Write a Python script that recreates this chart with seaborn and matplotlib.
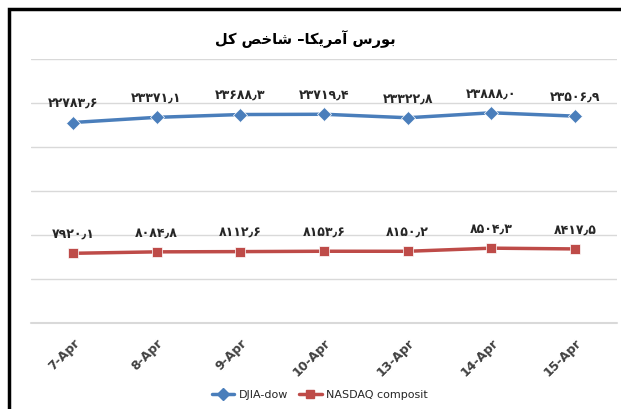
import pandas as pd
import matplotlib.pyplot as plt
import seaborn as sns
from matplotlib.patches import Rectangle
from matplotlib.lines import Line2D

# chart data
dates = ['7-Apr', '8-Apr', '9-Apr', '10-Apr', '13-Apr', '14-Apr', '15-Apr']
djia = [22783.6, 23371.1, 23688.3, 23719.4, 23322.8, 23888.0, 23506.9]
nasdaq = [7920.1, 8084.8, 8112.6, 8153.6, 8150.2, 8504.3, 8417.5]
series_names = ['DJIA-dow', 'NASDAQ composit']
# title, already shaped (presentation forms, visual order)
title = '\ufede\ufb90 \ufeba\ufea7\ufe8e\ufeb7 \u2013\ufe8e\ufb91\ufbfe\ufeae\ufee3\ufe81 \ufeb1\ufead\ufeee\ufe91'

colors = {'DJIA-dow': '#4A7EBB', 'NASDAQ composit': '#BE4B48'}
markers = {'DJIA-dow': 'D', 'NASDAQ composit': 's'}

df = pd.DataFrame({
    'date': dates * 2,
    'value': djia + nasdaq,
    'series': [series_names[0]] * len(dates) + [series_names[1]] * len(dates),
})


def persian_num(v):
    s = f'{v:.1f}'.replace('.', '\u066b')
    return s.translate(str.maketrans('0123456789', '\u06f0\u06f1\u06f2\u06f3\u06f4\u06f5\u06f6\u06f7\u06f8\u06f9'))


sns.set_style('white')
plt.rcParams['font.family'] = ['DejaVu Sans']

fig = plt.figure(figsize=(6.21, 4.09), dpi=100)
ax = fig.add_axes([31 / 621, 86 / 409, 586 / 621, 264 / 409])

sns.lineplot(data=df, x='date', y='value', hue='series', style='series',
             palette=colors, markers=markers, dashes=False, linewidth=2.5,
             markersize=7, markeredgewidth=0.5, ax=ax, legend=False, sort=False)

ax.set_xlim(-0.5, len(dates) - 0.5)
ax.set_ylim(0, 30000)
ax.set_yticks(range(0, 30001, 5000))
ax.set_yticklabels([])
ax.grid(axis='y', color='#D9D9D9', linewidth=1)
ax.grid(axis='x', visible=False)
ax.axhline(0, color='#D9D9D9', linewidth=1.5, clip_on=False, zorder=0)
sns.despine(ax=ax, left=True, bottom=True, top=True, right=True)
ax.tick_params(axis='both', length=0)
ax.tick_params(axis='x', pad=10)
ax.set_xlabel('')
ax.set_ylabel('')
ax.set_xticks(range(len(dates)))
ax.set_xticklabels(dates, rotation=45, ha='right', rotation_mode='anchor',
                   fontsize=9, fontweight='bold', color='#404040')

for vals in (djia, nasdaq):
    for i, v in enumerate(vals):
        ax.annotate(persian_num(v), (i, v), xytext=(0, 9), textcoords='offset points',
                    ha='center', va='bottom', fontsize=9, fontweight='bold', color='#262626')

fig.text(305 / 621, 1 - 39 / 409, title, ha='center', va='center',
         fontsize=10.5, fontweight='bold', color='black')

handles = [Line2D([], [], color=colors[n], marker=markers[n], linewidth=2.5, markersize=6)
           for n in series_names]
fig.legend(handles, series_names, loc='center', bbox_to_anchor=(320 / 621, 1 - 395 / 409),
           ncol=2, frameon=False, fontsize=8, handlelength=2, columnspacing=1.0, handletextpad=0.4)

fig.patches.append(Rectangle((9 / 621, -0.1), 1.2, 1 - 9 / 409 + 0.1, transform=fig.transFigure,
                             fill=False, edgecolor='black', linewidth=2.5))

fig.savefig('out.png', dpi=100)
